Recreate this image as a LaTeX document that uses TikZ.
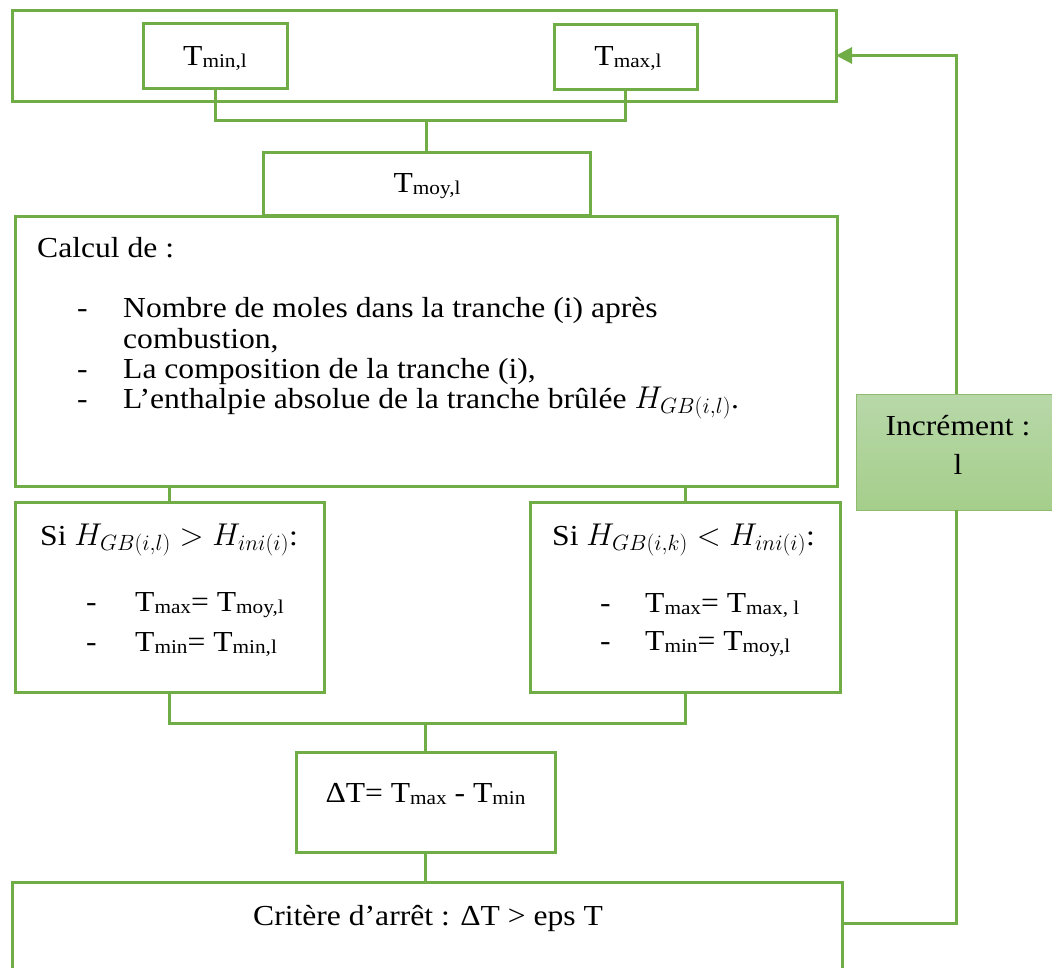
\RequirePackage{fix-cm}
\documentclass[tikz,border=0pt]{standalone}
\usepackage{fontspec}
\setmainfont{Liberation Serif}[FakeStretch=1.09]
\usetikzlibrary{calc, positioning, arrows.meta}

\definecolor{vert}{RGB}{112,173,71}
\definecolor{vertclair}{RGB}{184,216,169}
\definecolor{vertfonce}{RGB}{165,206,139}

\newcommand{\grand}{\fontsize{29}{30}\selectfont}
\newcommand{\indice}[1]{\raisebox{-0.08em}{\fontsize{19.5}{20}\selectfont #1}}
\newcommand{\Tind}[1]{T\indice{#1}}
\newcommand{\formule}[1]{{\fontsize{31.5}{30}\selectfont$#1$}}

\begin{document}
\begin{tikzpicture}[x=1pt, y=-1pt, >={Triangle[length=16pt, width=16pt]},
  boite/.style={draw=vert, line width=3pt, rectangle, inner sep=0pt, outer sep=0pt, anchor=north west},
  lien/.style={draw=vert, line width=3pt},
  texte/.style={anchor=base west, inner sep=0pt, font=\grand},
  centre/.style={anchor=base, inner sep=0pt, font=\grand}]

  \useasboundingbox (0,0) rectangle (1052,967);
  \clip (0,0) rectangle (1052,967);

  % Bornes de temperature
  \node[boite, minimum width=824pt, minimum height=91pt] (cadre) at (12,10) {};
  \node[boite, minimum width=144pt, minimum height=65pt] (tmin) at (143,23) {};
  \node[boite, minimum width=143pt, minimum height=65pt] (tmax) at (554,24) {};
  \node[centre] (tmin-txt) at (215,65) {\Tind{min,l}};
  \node[centre] (tmax-txt) at (628,65) {\Tind{max,l}};

  % Temperature moyenne
  \node[boite, minimum width=327pt, minimum height=63pt] (tmoy) at (263,152) {};
  \node[centre] (tmoy-txt) at (427,192) {\Tind{moy,l}};

  % Calcul de la tranche
  \node[boite, minimum width=822pt, minimum height=270pt] (calcul) at (15,216) {};
  \node[texte] (calcul-titre) at (37,257) {Calcul de :};
  \node[texte] (calcul-t1) at (77,317) {-};
  \node[texte] (calcul-l1) at (123,317) {Nombre de moles dans la tranche (i) après};
  \node[texte] (calcul-l1b) at (123,348) {combustion,};
  \node[texte] (calcul-t2) at (77,378) {-};
  \node[texte] (calcul-l2) at (123,378) {La composition de la tranche (i),};
  \node[texte] (calcul-t3) at (77,408) {-};
  \node[texte] (calcul-l3) at (123,408) {L’enthalpie absolue de la tranche brûlée \formule{H_{GB(i,l)}}.};

  % Tests sur l'enthalpie
  \node[boite, minimum width=309pt, minimum height=190pt] (sigauche) at (15,502) {};
  \node[texte] (sigauche-titre) at (40,545) {Si \formule{H_{GB(i,l)} > H_{ini(i)}}:};
  \node[texte] (sigauche-t1) at (86,611) {-};
  \node[texte] (sigauche-l1) at (135,611) {\Tind{max}= \Tind{moy,l}};
  \node[texte] (sigauche-t2) at (86,651) {-};
  \node[texte] (sigauche-l2) at (135,651) {\Tind{min}= \Tind{min,l}};

  \node[boite, minimum width=310pt, minimum height=190pt] (sidroite) at (530,502) {};
  \node[texte] (sidroite-titre) at (552,545) {Si \formule{H_{GB(i,k)} < H_{ini(i)}}:};
  \node[texte] (sidroite-t1) at (600,612) {-};
  \node[texte] (sidroite-l1) at (645,612) {\Tind{max}= \Tind{max, l}};
  \node[texte] (sidroite-t2) at (600,650) {-};
  \node[texte] (sidroite-l2) at (645,650) {\Tind{min}= \Tind{moy,l}};

  % Ecart et critere
  \node[boite, minimum width=259pt, minimum height=100pt] (dt) at (296,752) {};
  \node[centre] (dt-txt) at (425.5,802) {ΔT= \Tind{max} - \Tind{min}};
  \node[boite, minimum width=830pt, minimum height=95pt] (critere) at (12,882) {};
  \node[texte] (critere-txt) at (253,925) {Critère d’arrêt : ΔT > eps T};

  % Increment
  \node[boite, draw=vert!80, line width=0.8pt, top color=vertclair, bottom color=vertfonce,
        minimum width=200pt, minimum height=116pt] (incr) at (856,394) {};
  \node[centre] (incr-l1) at (958,435) {Incrément :};
  \node[centre] (incr-l2) at (958,474) {l};

  % Connexions
  \coordinate (jonction1) at ($(tmoy.north)+(0,-32)$);
  \draw[lien] (tmin.south) |- (jonction1) -| (tmax.south);
  \draw[lien] (jonction1) -- (tmoy.north);
  \draw[lien] (calcul.south -| sigauche.north) -- (sigauche.north);
  \draw[lien] (calcul.south -| sidroite.north) -- (sidroite.north);
  \coordinate (jonction2) at ($(dt.north)+(0,-29)$);
  \draw[lien] (sigauche.south) |- (jonction2) -| (sidroite.south);
  \draw[lien] (jonction2) -- (dt.north);
  \draw[lien] (dt.south) -- (dt.south |- critere.north);

  % Boucle de retour
  \coordinate (retour) at ($(incr.south)+(0,413)$);
  \draw[lien] (incr.south) -- (retour) -- (retour -| critere.east);
  \draw[lien, ->] (incr.north) |- (cadre.east);
\end{tikzpicture}
\end{document}
